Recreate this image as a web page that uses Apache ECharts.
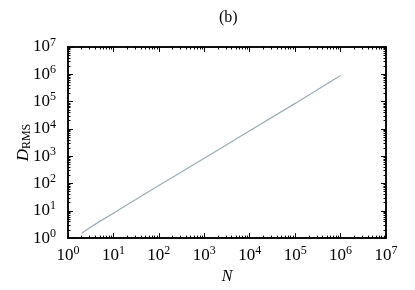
<!DOCTYPE html>
<html><head><meta charset="utf-8">
<script src="https://cdn.jsdelivr.net/npm/echarts@6/dist/echarts.min.js"></script>
<style>html,body{margin:0;padding:0;background:#fff}#c{width:415px;height:290px}</style>
</head><body><div id="c"></div>
<script>
var nValues = [2, 3, 5, 10, 20, 50, 100, 1000, 10000, 100000, 1000000];
var dValues = [1.5, 2.4, 4.1, 8.2, 16.8, 42, 84, 840, 8500, 86000, 900000];
var majorTicks = [1, 10, 100, 1000, 10000, 100000, 1000000, 10000000];
var minorTicks = [];
for (var d = 0; d < 7; d++) { for (var m = 2; m <= 9; m++) minorTicks.push(m * Math.pow(10, d)); }

var font = 'Liberation Serif';
var rich = {
  b: {fontFamily: font, fontSize: 17, color: '#000'},
  s: {fontFamily: font, fontSize: 12, color: '#000', verticalAlign: 'top', padding: [0,0,9,0]}
};
function fmt(v) {
  var e = Math.round(Math.log10(v));
  return '{b|10}{s|' + e + '}';
}
var grid = {left: 68, right: 29, top: 47, bottom: 51};
function baseAxis(pos, opts) {
  var a = {
    type: 'log', logBase: 10, min: 1, max: 10000000, position: pos,
    axisLine: {show: true, onZero: false, lineStyle: {color: '#000', width: 1.5}},
    splitLine: {show: false},
    axisLabel: {show: false},
    axisTick: {show: true, inside: true, length: 5, lineStyle: {color: '#000', width: 1}, customValues: majorTicks}
  };
  for (var k in opts) a[k] = opts[k];
  return a;
}
var minorTick = {show: true, inside: true, length: 2.5, lineStyle: {color: '#000', width: 1}, customValues: minorTicks};
var xAxes = [
  baseAxis('bottom', {
    name: 'N', nameLocation: 'middle', nameGap: 28,
    nameTextStyle: {fontFamily: font, fontSize: 16, fontStyle: 'italic', color: '#000'},
    axisLabel: {show: true, formatter: fmt, rich: rich, margin: 7, customValues: majorTicks, showMinLabel: true, showMaxLabel: true}
  }),
  baseAxis('bottom', {axisTick: minorTick}),
  baseAxis('top', {}),
  baseAxis('top', {axisTick: minorTick})
];
var yAxes = [
  baseAxis('left', {
    name: '{d|D}{r|RMS}', nameLocation: 'middle', nameGap: 35, nameRotate: 90, nameMoveOverlap: false,
    nameTextStyle: {rich: {
      d: {fontFamily: font, fontSize: 17, fontStyle: 'italic', color: '#000'},
      r: {fontFamily: font, fontSize: 12, color: '#000', verticalAlign: 'bottom', padding: [7,0,0,0]}
    }},
    axisLabel: {show: true, formatter: fmt, rich: rich, margin: 12, customValues: majorTicks, showMinLabel: true, showMaxLabel: true}
  }),
  baseAxis('left', {axisTick: minorTick}),
  baseAxis('right', {}),
  baseAxis('right', {axisTick: minorTick})
];
var chart = echarts.init(document.getElementById('c'), null, {renderer: 'canvas'});
chart.setOption({
  animation: false,
  backgroundColor: '#fff',
  title: {text: '(b)', left: 214, top: 5, textStyle: {fontFamily: font, fontSize: 16, fontWeight: 'normal', color: '#000'}},
  grid: grid,
  xAxis: xAxes,
  yAxis: yAxes,
  series: [{
    type: 'line', xAxisIndex: 0, yAxisIndex: 0, showSymbol: false,
    lineStyle: {color: '#98adb3', width: 1.2},
    data: nValues.map(function (n, i) { return [n, dValues[i]]; })
  }]
});
</script></body></html>
